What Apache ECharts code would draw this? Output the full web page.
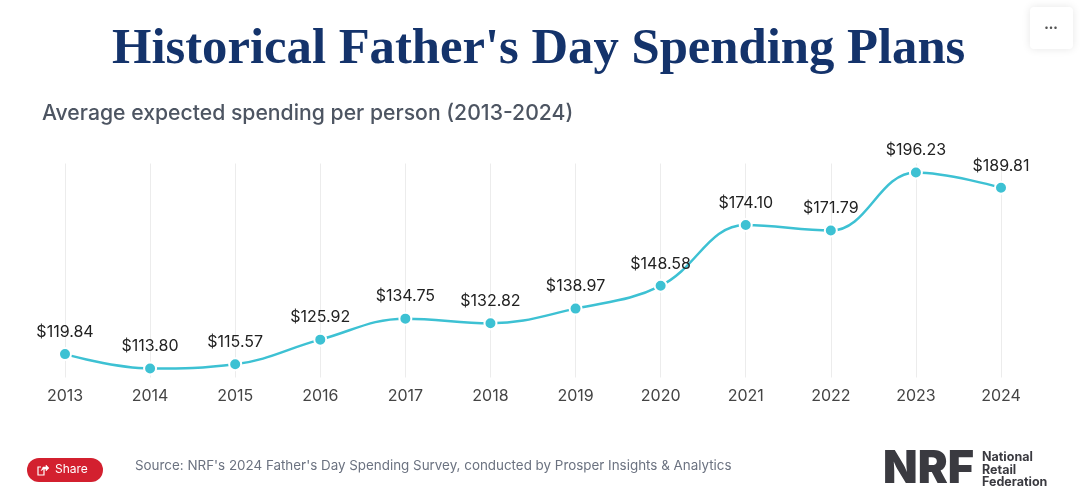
<!DOCTYPE html>
<html>
<head>
<meta charset="utf-8">
<style>
  html, body { margin: 0; padding: 0; background: #fff; }
  #chart { width: 1080px; height: 501px; }
</style>
<script src="https://cdn.jsdelivr.net/npm/echarts@6/dist/echarts.min.js"></script>
</head>
<body>
<div id="chart"></div>
<script>
// 数据
const years = ['2013', '2014', '2015', '2016', '2017', '2018', '2019', '2020', '2021', '2022', '2023', '2024']
const spending = [119.84, 113.80, 115.57, 125.92, 134.75, 132.82, 138.97, 148.58, 174.10, 171.79, 196.23, 189.81]

const titleText = "Historical Father's Day Spending Plans"
const subtitleText = 'Average expected spending per person (2013-2024)'
const sourceText = "Source: NRF's 2024 Father's Day Spending Survey, conducted by Prosper Insights & Analytics"
const logoLines = ['National', 'Retail', 'Federation']

const font = 'Inter, "Open Sans", sans-serif'
const chart = echarts.init(document.getElementById('chart'))

chart.setOption({
  backgroundColor: '#fff',
  animation: false,
  grid: { left: 65, right: 79, top: 163.5, bottom: 123.5 },
  xAxis: {
    type: 'category',
    boundaryGap: false,
    data: years,
    axisLine: { show: false },
    axisTick: { show: false },
    axisLabel: { color: '#444', fontFamily: font, fontSize: 16, margin: 11 },
    splitLine: { show: true, lineStyle: { color: '#ececec', width: 1 } }
  },
  yAxis: { type: 'value', min: 110, max: 200, show: false },
  series: [{
    type: 'line',
    data: spending,
    smooth: 0.4,
    symbol: 'circle',
    symbolSize: 12,
    lineStyle: { color: '#3dc1d3', width: 2.5 },
    itemStyle: { color: '#3dc1d3', borderColor: '#fff', borderWidth: 2 },
    label: {
      show: true,
      position: 'top',
      distance: 7,
      color: '#222',
      fontFamily: font,
      fontSize: 16,
      formatter: p => '$' + p.value.toFixed(2)
    }
  }],
  graphic: [
    { type: 'text', left: 112, top: 24, style: { text: titleText, fill: '#14336b', font: 'bold 50.7px "Liberation Serif", serif' } },
    { type: 'text', left: 42, top: 103, style: { text: subtitleText, fill: '#4d5562', font: '500 21.2px ' + font } },
    { type: 'text', left: 135, top: 459, style: { text: sourceText, fill: '#6b7280', font: '13.4px ' + font } },
    // 右上角菜单按钮
    { type: 'rect', shape: { x: 1030, y: 7, width: 43, height: 42, r: 4 }, style: { fill: '#fff', shadowBlur: 8, shadowColor: 'rgba(0,0,0,0.1)' } },
    { type: 'text', x: 1051, y: 28, style: { text: '•••', fill: '#555', font: '8px ' + font, align: 'center', verticalAlign: 'middle' } },
    // 分享按钮
    { type: 'rect', shape: { x: 27, y: 458, width: 76, height: 24, r: 12 }, style: { fill: '#d3202f' } },
    { type: 'polyline', shape: { points: [[44, 469], [44, 475], [38, 475], [38, 467], [41, 467]] }, style: { fill: 'none', stroke: '#fff', lineWidth: 1.2 } },
    { type: 'polyline', shape: { points: [[41, 471], [43, 467], [46, 467], [46, 465], [49, 468], [46, 471], [46, 469], [44, 469]] }, style: { fill: '#fff', stroke: '#fff', lineWidth: 0.5 } },
    { type: 'text', left: 55, top: 463, style: { text: 'Share', fill: '#fff', font: '12px ' + font } },
    // NRF 标志
    { type: 'text', left: 883, top: 447, style: { text: 'NRF', fill: '#3a3a40', font: '900 45px Inter, sans-serif' } },
    { type: 'text', left: 982, top: 451, style: { text: logoLines.join('\n'), fill: '#3a3a40', font: 'bold 12.5px ' + font, lineHeight: 12.5 } }
  ]
})
</script>
</body>
</html>
